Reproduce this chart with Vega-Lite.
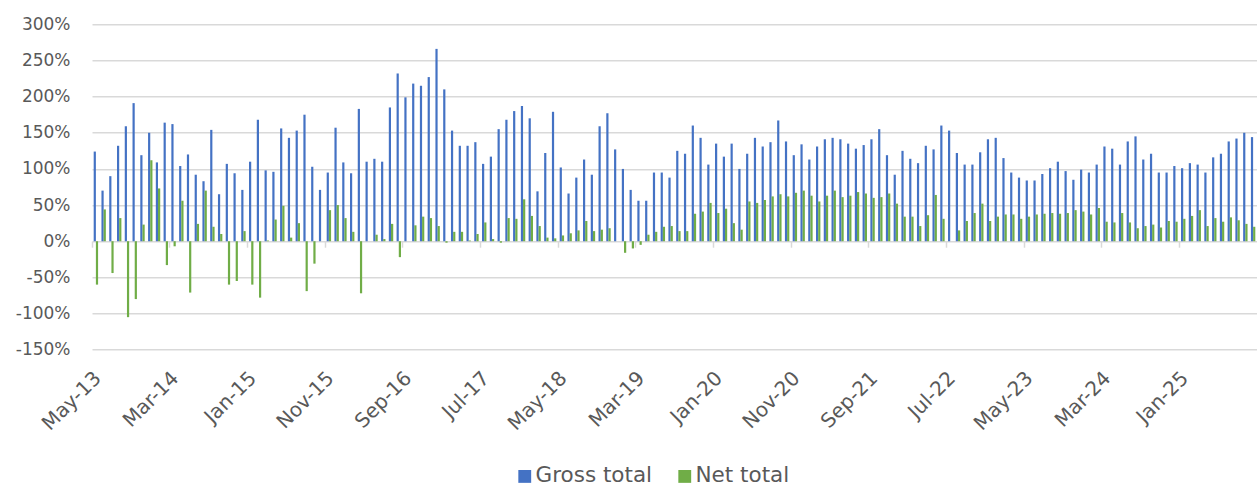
{
  "$schema": "https://vega.github.io/schema/vega-lite/v6.json",
  "width": 1165,
  "height": 325.4,
  "autosize": {"type": "none"},
  "padding": {"left": 92, "top": 24.3, "right": 0, "bottom": 136.3},
  "background": "white",
  "config": {"view": {"stroke": null}, "font": "DejaVu Sans"},
  "data": {"values": [
    {"m":"May-13","Gross total":124,"Net total":-60},
    {"m":"Jun-13","Gross total":70,"Net total":44},
    {"m":"Jul-13","Gross total":90,"Net total":-44},
    {"m":"Aug-13","Gross total":132,"Net total":32},
    {"m":"Sep-13","Gross total":159,"Net total":-105},
    {"m":"Oct-13","Gross total":191,"Net total":-80},
    {"m":"Nov-13","Gross total":119,"Net total":23},
    {"m":"Dec-13","Gross total":150,"Net total":112},
    {"m":"Jan-14","Gross total":109,"Net total":73},
    {"m":"Feb-14","Gross total":164,"Net total":-33},
    {"m":"Mar-14","Gross total":162,"Net total":-7},
    {"m":"Apr-14","Gross total":104,"Net total":56},
    {"m":"May-14","Gross total":120,"Net total":-71},
    {"m":"Jun-14","Gross total":92,"Net total":24},
    {"m":"Jul-14","Gross total":83,"Net total":70},
    {"m":"Aug-14","Gross total":154,"Net total":20},
    {"m":"Sep-14","Gross total":65,"Net total":10},
    {"m":"Oct-14","Gross total":107,"Net total":-60},
    {"m":"Nov-14","Gross total":94,"Net total":-55},
    {"m":"Dec-14","Gross total":71,"Net total":14},
    {"m":"Jan-15","Gross total":110,"Net total":-60},
    {"m":"Feb-15","Gross total":168,"Net total":-78},
    {"m":"Mar-15","Gross total":98,"Net total":1},
    {"m":"Apr-15","Gross total":96,"Net total":30},
    {"m":"May-15","Gross total":156,"Net total":49},
    {"m":"Jun-15","Gross total":143,"Net total":5},
    {"m":"Jul-15","Gross total":153,"Net total":25},
    {"m":"Aug-15","Gross total":175,"Net total":-69},
    {"m":"Sep-15","Gross total":103,"Net total":-31},
    {"m":"Oct-15","Gross total":71,"Net total":0},
    {"m":"Nov-15","Gross total":95,"Net total":43},
    {"m":"Dec-15","Gross total":157,"Net total":50},
    {"m":"Jan-16","Gross total":109,"Net total":32},
    {"m":"Feb-16","Gross total":94,"Net total":13},
    {"m":"Mar-16","Gross total":183,"Net total":-72},
    {"m":"Apr-16","Gross total":110,"Net total":0},
    {"m":"May-16","Gross total":114,"Net total":9},
    {"m":"Jun-16","Gross total":110,"Net total":3},
    {"m":"Jul-16","Gross total":185,"Net total":24},
    {"m":"Aug-16","Gross total":232,"Net total":-22},
    {"m":"Sep-16","Gross total":199,"Net total":0},
    {"m":"Oct-16","Gross total":218,"Net total":22},
    {"m":"Nov-16","Gross total":215,"Net total":34},
    {"m":"Dec-16","Gross total":227,"Net total":32},
    {"m":"Jan-17","Gross total":266,"Net total":21},
    {"m":"Feb-17","Gross total":210,"Net total":-2},
    {"m":"Mar-17","Gross total":153,"Net total":13},
    {"m":"Apr-17","Gross total":132,"Net total":13},
    {"m":"May-17","Gross total":132,"Net total":1},
    {"m":"Jun-17","Gross total":137,"Net total":10},
    {"m":"Jul-17","Gross total":107,"Net total":26},
    {"m":"Aug-17","Gross total":117,"Net total":3},
    {"m":"Sep-17","Gross total":155,"Net total":-2},
    {"m":"Oct-17","Gross total":168,"Net total":32},
    {"m":"Nov-17","Gross total":180,"Net total":31},
    {"m":"Dec-17","Gross total":187,"Net total":58},
    {"m":"Jan-18","Gross total":170,"Net total":35},
    {"m":"Feb-18","Gross total":69,"Net total":21},
    {"m":"Mar-18","Gross total":122,"Net total":5},
    {"m":"Apr-18","Gross total":179,"Net total":4},
    {"m":"May-18","Gross total":102,"Net total":8},
    {"m":"Jun-18","Gross total":66,"Net total":11},
    {"m":"Jul-18","Gross total":88,"Net total":15},
    {"m":"Aug-18","Gross total":113,"Net total":28},
    {"m":"Sep-18","Gross total":92,"Net total":14},
    {"m":"Oct-18","Gross total":159,"Net total":16},
    {"m":"Nov-18","Gross total":177,"Net total":18},
    {"m":"Dec-18","Gross total":127,"Net total":0},
    {"m":"Jan-19","Gross total":100,"Net total":-16},
    {"m":"Feb-19","Gross total":71,"Net total":-10},
    {"m":"Mar-19","Gross total":56,"Net total":-5},
    {"m":"Apr-19","Gross total":56,"Net total":9},
    {"m":"May-19","Gross total":95,"Net total":13},
    {"m":"Jun-19","Gross total":95,"Net total":20},
    {"m":"Jul-19","Gross total":88,"Net total":21},
    {"m":"Aug-19","Gross total":125,"Net total":14},
    {"m":"Sep-19","Gross total":121,"Net total":14},
    {"m":"Oct-19","Gross total":160,"Net total":38},
    {"m":"Nov-19","Gross total":143,"Net total":41},
    {"m":"Dec-19","Gross total":106,"Net total":53},
    {"m":"Jan-20","Gross total":135,"Net total":39},
    {"m":"Feb-20","Gross total":117,"Net total":45},
    {"m":"Mar-20","Gross total":135,"Net total":25},
    {"m":"Apr-20","Gross total":100,"Net total":16},
    {"m":"May-20","Gross total":121,"Net total":55},
    {"m":"Jun-20","Gross total":143,"Net total":53},
    {"m":"Jul-20","Gross total":131,"Net total":57},
    {"m":"Aug-20","Gross total":137,"Net total":62},
    {"m":"Sep-20","Gross total":167,"Net total":65},
    {"m":"Oct-20","Gross total":138,"Net total":62},
    {"m":"Nov-20","Gross total":119,"Net total":67},
    {"m":"Dec-20","Gross total":134,"Net total":70},
    {"m":"Jan-21","Gross total":113,"Net total":63},
    {"m":"Feb-21","Gross total":131,"Net total":55},
    {"m":"Mar-21","Gross total":141,"Net total":63},
    {"m":"Apr-21","Gross total":143,"Net total":70},
    {"m":"May-21","Gross total":141,"Net total":61},
    {"m":"Jun-21","Gross total":135,"Net total":63},
    {"m":"Jul-21","Gross total":128,"Net total":68},
    {"m":"Aug-21","Gross total":133,"Net total":66},
    {"m":"Sep-21","Gross total":141,"Net total":60},
    {"m":"Oct-21","Gross total":155,"Net total":61},
    {"m":"Nov-21","Gross total":119,"Net total":66},
    {"m":"Dec-21","Gross total":92,"Net total":52},
    {"m":"Jan-22","Gross total":125,"Net total":34},
    {"m":"Feb-22","Gross total":114,"Net total":34},
    {"m":"Mar-22","Gross total":108,"Net total":21},
    {"m":"Apr-22","Gross total":132,"Net total":36},
    {"m":"May-22","Gross total":127,"Net total":64},
    {"m":"Jun-22","Gross total":160,"Net total":31},
    {"m":"Jul-22","Gross total":153,"Net total":0},
    {"m":"Aug-22","Gross total":122,"Net total":15},
    {"m":"Sep-22","Gross total":106,"Net total":28},
    {"m":"Oct-22","Gross total":106,"Net total":39},
    {"m":"Nov-22","Gross total":123,"Net total":52},
    {"m":"Dec-22","Gross total":141,"Net total":28},
    {"m":"Jan-23","Gross total":143,"Net total":34},
    {"m":"Feb-23","Gross total":115,"Net total":37},
    {"m":"Mar-23","Gross total":95,"Net total":37},
    {"m":"Apr-23","Gross total":88,"Net total":31},
    {"m":"May-23","Gross total":84,"Net total":34},
    {"m":"Jun-23","Gross total":84,"Net total":37},
    {"m":"Jul-23","Gross total":93,"Net total":38},
    {"m":"Aug-23","Gross total":101,"Net total":39},
    {"m":"Sep-23","Gross total":110,"Net total":38},
    {"m":"Oct-23","Gross total":97,"Net total":39},
    {"m":"Nov-23","Gross total":85,"Net total":43},
    {"m":"Dec-23","Gross total":99,"Net total":41},
    {"m":"Jan-24","Gross total":95,"Net total":37},
    {"m":"Feb-24","Gross total":106,"Net total":46},
    {"m":"Mar-24","Gross total":131,"Net total":27},
    {"m":"Apr-24","Gross total":128,"Net total":26},
    {"m":"May-24","Gross total":106,"Net total":39},
    {"m":"Jun-24","Gross total":138,"Net total":26},
    {"m":"Jul-24","Gross total":145,"Net total":18},
    {"m":"Aug-24","Gross total":113,"Net total":21},
    {"m":"Sep-24","Gross total":121,"Net total":23},
    {"m":"Oct-24","Gross total":95,"Net total":19},
    {"m":"Nov-24","Gross total":95,"Net total":28},
    {"m":"Dec-24","Gross total":104,"Net total":27},
    {"m":"Jan-25","Gross total":101,"Net total":31},
    {"m":"Feb-25","Gross total":108,"Net total":35},
    {"m":"Mar-25","Gross total":106,"Net total":43},
    {"m":"Apr-25","Gross total":95,"Net total":21},
    {"m":"May-25","Gross total":116,"Net total":32},
    {"m":"Jun-25","Gross total":121,"Net total":27},
    {"m":"Jul-25","Gross total":138,"Net total":33},
    {"m":"Aug-25","Gross total":142,"Net total":29},
    {"m":"Sep-25","Gross total":150,"Net total":24},
    {"m":"Oct-25","Gross total":144,"Net total":20}
  ]},
  "transform": [{"fold": ["Gross total", "Net total"], "as": ["series", "value"]}],
  "layer": [
    {
      "mark": {"type": "bar"},
      "encoding": {
        "x": {
          "field": "m", "type": "ordinal", "sort": null,
          "scale": {"paddingInner": 0.433, "paddingOuter": 0.217},
          "axis": {
            "values": ["May-13","Mar-14","Jan-15","Nov-15","Sep-16","Jul-17","May-18","Mar-19","Jan-20","Nov-20","Sep-21","Jul-22","May-23","Mar-24","Jan-25"],
            "labelAngle": 315, "labelAlign": "right", "labelBaseline": "middle",
            "labelFontSize": 20, "labelColor": "#595959",
            "ticks": false, "domain": false, "grid": false, "title": null,
            "labelPadding": 25, "labelOffset": 2, "labelOverlap": false, "orient": "bottom"
          }
        },
        "xOffset": {"field": "series", "sort": ["Gross total", "Net total"], "scale": {"paddingInner": 0, "paddingOuter": 0}},
        "y": {
          "field": "value", "type": "quantitative",
          "scale": {"domain": [-150, 300], "nice": false, "zero": false},
          "axis": {
            "values": [-150, -100, -50, 0, 50, 100, 150, 200, 250, 300],
            "tickCount": 20,
            "labelExpr": "datum.value + '%'", "labelOverlap": false,
            "title": null, "domain": false, "ticks": false, "grid": true,
            "gridColor": "#d9d9d9", "gridWidth": 1.5,
            "labelFontSize": 17, "labelColor": "#595959", "labelPadding": 22
          }
        },
        "color": {
          "field": "series", "type": "nominal",
          "scale": {"domain": ["Gross total", "Net total"], "range": ["#4472C4", "#70AD47"]},
          "legend": {
            "title": null, "orient": "none", "direction": "horizontal",
            "legendX": 422, "legendY": 441, "padding": 0,
            "symbolType": "square", "symbolSize": 165, "symbolStrokeWidth": 0,
            "labelFontSize": 21.5, "labelColor": "#595959", "labelOffset": 0,
            "columnPadding": 21
          }
        }
      }
    },
    {
      "mark": {"type": "point", "opacity": 0},
      "encoding": {
        "x": {
          "field": "m", "type": "ordinal", "sort": null,
          "axis": {
            "values": ["May-13","Mar-14","Jan-15","Nov-15","Sep-16","Jul-17","May-18","Mar-19","Jan-20","Nov-20","Sep-21","Jul-22","May-23","Mar-24","Jan-25"],
            "orient": "bottom", "offset": -108.5, "labels": false, "domain": false, "grid": false,
            "ticks": true, "tickColor": "#d9d9d9", "tickWidth": 1.5, "tickSize": 6,
            "bandPosition": -0.38, "title": null
          }
        },
        "y": {"datum": 0, "type": "quantitative"}
      }
    }
  ],
  "resolve": {"axis": {"x": "independent"}}
}
